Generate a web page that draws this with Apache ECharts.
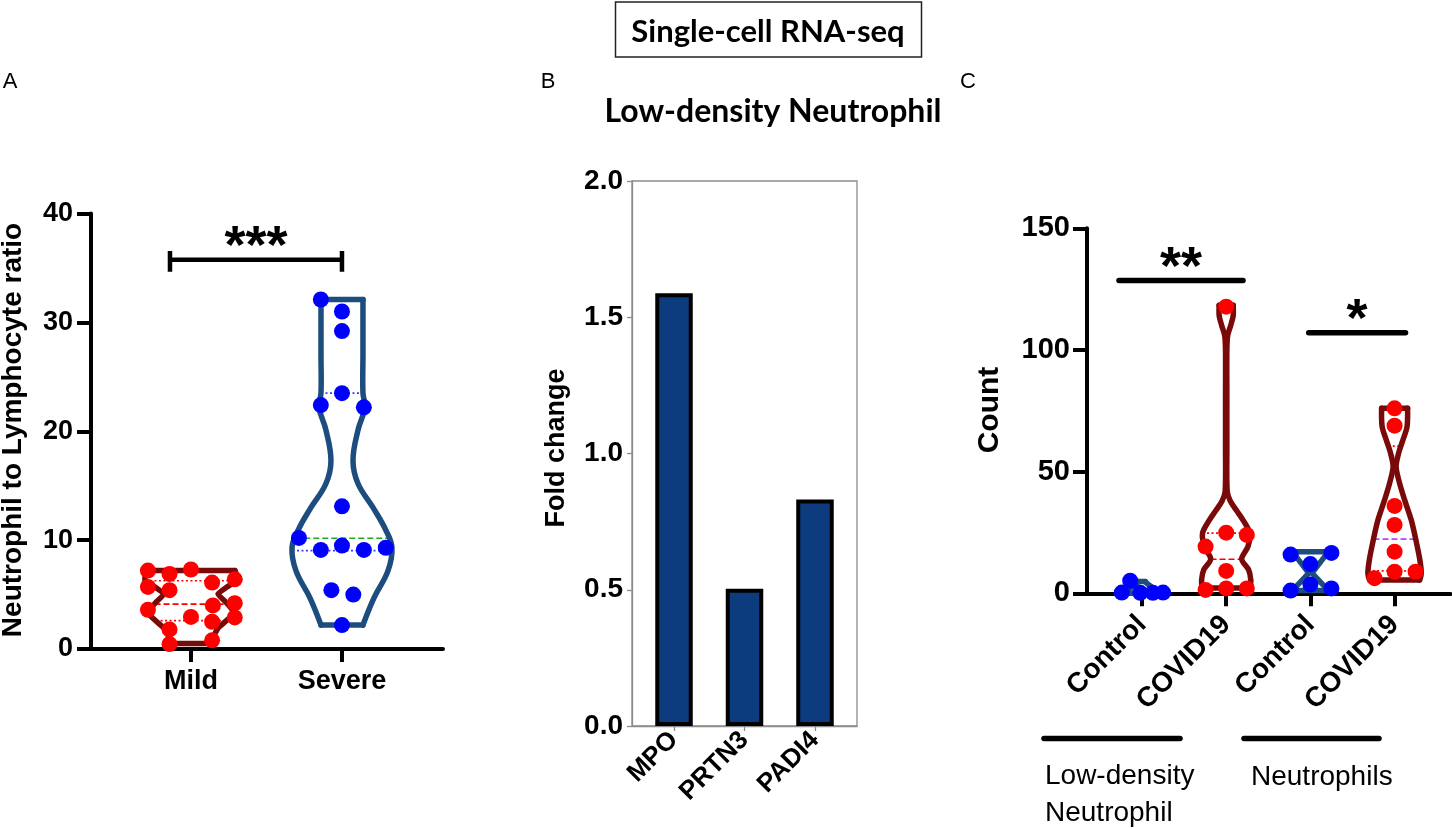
<!DOCTYPE html>
<html><head><meta charset="utf-8">
<script src="https://cdn.jsdelivr.net/npm/echarts@6/dist/echarts.min.js"></script>
<style>html,body{margin:0;padding:0;background:#fff}#c{width:1452px;height:829px}</style>
</head><body><div id="c"></div>
<script>
// ---------- Panel A data ----------
const catsA = ['Mild', 'Severe'];
const ticksA = [0, 10, 20, 30, 40];
const mildValues = [7.2, 6.9, 7.3, 6.1, 6.4, 5.7, 5.4, 4.0, 4.2, 3.6, 2.95, 2.5, 2.9, 1.8, 0.8, 0.45];
const mildJitter = [-0.285, -0.142, 0, 0.14, 0.29, -0.285, -0.142, 0.145, 0.29, -0.285, 0, 0.14, 0.29, -0.142, 0.14, -0.142];
const severeValues = [32.1, 31.0, 29.2, 23.5, 22.4, 22.2, 13.1, 10.2, 9.1, 9.5, 9.1, 9.3, 5.4, 5.0, 2.2];
const severeJitter = [-0.14, 0, 0, 0, -0.14, 0.145, 0, -0.285, -0.14, 0, 0.145, 0.29, -0.07, 0.075, 0];
// violin density outlines: value levels and half-widths (x-axis units)
const mildProfileY = [0.5, 1.2, 2.0, 3.3, 4.3, 5.05, 5.7, 6.3, 6.9, 7.2];
const mildProfileW = [0.146, 0.15, 0.185, 0.285, 0.232, 0.179, 0.238, 0.305, 0.30, 0.291];
const severeProfileY = [2.2, 4.7, 7.2, 9.3, 10.9, 13.0, 15.2, 17.3, 20.1, 22.2, 23.5, 27.0, 32.1];
const severeProfileW = [0.139, 0.212, 0.305, 0.331, 0.291, 0.205, 0.106, 0.073, 0.106, 0.152, 0.139, 0.139, 0.139];
const mildQuartiles = [2.6, 4.13, 6.27];      // Q1, median, Q3
const severeQuartiles = [9.03, 10.17, 23.5];
const sigA = {from: 0.861, to: 2.0, y: 35.76, label: '***'};

// ---------- Panel B data ----------
const genesB = ['MPO', 'PRTN3', 'PADI4'];
const foldChange = [1.588, 0.504, 0.831];
const ticksB = [0, 0.5, 1.0, 1.5, 2.0];

// ---------- Panel C data ----------
const catsC = ['Control', 'COVID19', 'Control', 'COVID19'];
const groupsC = ['Low-density\nNeutrophil', 'Neutrophils'];
const ticksC = [0, 50, 100, 150];
const ctrlLdnValues = [0.3, 5.2, 0.2, 0.2, 0.3];
const ctrlLdnJitter = [-0.24, -0.14, -0.02, 0.13, 0.25];
const covLdnValues = [117.8, 24.9, 24.0, 19.2, 9.2, 1.4, 2.0, 2.0];
const covLdnJitter = [0, 0, 0.245, -0.245, 0, -0.245, 0, 0.245];
const ctrlNValues = [15.9, 16.6, 12.0, 3.6, 1.1, 2.0];
const ctrlNJitter = [-0.235, 0.25, 0, 0, -0.235, 0.25];
const covNValues = [76.0, 68.9, 35.9, 28.1, 17.1, 8.9, 8.9, 6.2];
const covNJitter = [0, 0, 0, 0, 0, 0, 0.249, -0.238];
const ctrlLdnProfileY = [0.0, 1.0, 2.5, 4.0, 4.8];
const ctrlLdnProfileW = [0.21, 0.19, 0.12, 0.06, 0.04];
const covLdnProfileY = [2.2, 5.5, 9.6, 14.1, 19.2, 24.7, 30.0, 34.2, 38.0, 42.0, 60, 80, 100, 106, 110, 114, 118.4];
const covLdnProfileW = [0.285, 0.292, 0.267, 0.184, 0.258, 0.281, 0.202, 0.119, 0.048, 0.012, 0.008, 0.008, 0.008, 0.018, 0.053, 0.083, 0.083];
const ctrlNProfileY = [1.1, 8.3, 17.1];
const ctrlNProfileW = [0.214, 0.02, 0.214];
const covNProfileY = [5.5, 8.2, 13.7, 21.9, 30.1, 38.4, 45.3, 52.0, 57.6, 63.0, 68.5, 76.0];
const covNProfileW = [0.297, 0.317, 0.300, 0.253, 0.198, 0.119, 0.059, 0.018, 0.048, 0.099, 0.148, 0.154];
const covLdnQuartiles = [2.0, 14.0, 24.7];
const ctrlNQuartiles = [null, 7.6, null];
const covNQuartiles = [9.2, 22.3, 60.5];
const sigC = [{from: 0.727, to: 2.2, y: 128.5, label: '**'}, {from: 2.98, to: 4.13, y: 107.1, label: '*'}];

// ---------- styles ----------
const FONT = '"Liberation Sans", Arial, sans-serif';
const DARKRED = '#7a0a0a', NAVY = '#1c4d7e', RED = '#ff0000', BLUE = '#0000ff';

function interp(ys, ws, v) {
  if (v <= ys[0]) return ws[0];
  for (let i = 1; i < ys.length; i++) {
    if (v <= ys[i]) { const t = (v - ys[i - 1]) / (ys[i] - ys[i - 1]); return ws[i - 1] + t * (ws[i] - ws[i - 1]); }
  }
  return ws[ws.length - 1];
}

function violinSeries(idx, violins) {
  return {
    type: 'custom', xAxisIndex: idx, yAxisIndex: idx, z: 2,
    data: violins.map(v => [v.pos, v.ys[0]]),
    encode: {x: 0, y: 1},
    renderItem: (params, api) => {
      const v = violins[params.dataIndex];
      const n = v.ys.length;
      const left = v.ys.map((y, i) => api.coord([v.pos - v.ws[i], y]));
      const right = v.ys.map((y, i) => api.coord([v.pos + v.ws[i], y]));
      const ol = () => ({stroke: v.color, lineWidth: 5.5, fill: null, lineJoin: 'round', lineCap: 'round'});
      const children = [];
      v.stats.forEach(s => {
        if (s.value == null) return;
        const h = interp(v.ys, v.ws, s.value);
        const a = api.coord([v.pos - h, s.value]), b = api.coord([v.pos + h, s.value]);
        children.push({type: 'line', shape: {x1: a[0], y1: a[1], x2: b[0], y2: b[1]},
          style: {stroke: s.color, lineWidth: 1.7, lineDash: s.dash}});
      });
      children.push({type: 'polyline', shape: {points: left, smooth: v.smooth}, style: ol()});
      children.push({type: 'polyline', shape: {points: right, smooth: v.smooth}, style: ol()});
      children.push({type: 'line', shape: {x1: left[0][0], y1: left[0][1], x2: right[0][0], y2: right[0][1]}, style: ol()});
      children.push({type: 'line', shape: {x1: left[n - 1][0], y1: left[n - 1][1], x2: right[n - 1][0], y2: right[n - 1][1]}, style: ol()});
      return {type: 'group', children};
    }
  };
}
const DOT = [2, 2.5], DASH = [6, 3];
function stats(q, c1, c2) {
  return [{value: q[0], color: c1, dash: DOT}, {value: q[1], color: c2, dash: DASH}, {value: q[2], color: c1, dash: DOT}];
}
function dots(idx, pos, vals, jit, color) {
  return {type: 'scatter', xAxisIndex: idx, yAxisIndex: idx, z: 3, symbolSize: 16,
    itemStyle: {color, opacity: 1}, data: vals.map((y, i) => [pos + jit[i], y]), silent: true};
}
function sigBar(idx, s, caps) {
  const d = caps ? [[s.from, s.y + 0.8], [s.from, s.y - 1.1], [s.from, s.y], [s.to, s.y], [s.to, s.y + 0.8], [s.to, s.y - 1.1]]
                 : [[s.from, s.y], [s.to, s.y]];
  return {type: 'line', xAxisIndex: idx, yAxisIndex: idx, data: d, symbol: 'none', z: 4,
    lineStyle: {color: '#000', width: caps ? 4.5 : 5.5, cap: caps ? 'butt' : 'round', join: 'miter'}};
}
function starText(idx, items) {
  return {type: 'custom', xAxisIndex: idx, yAxisIndex: idx, z: 5, data: items.map(s => [(s.from + s.to) / 2, s.y]),
    encode: {x: 0, y: 1},
    renderItem: (params, api) => {
      const s = items[params.dataIndex];
      const p = api.coord([(s.from + s.to) / 2, s.y]);
      return {type: 'text', x: p[0], y: p[1] - 12, style: {text: s.label, font: 'bold 54px ' + FONT, fill: '#000', align: 'center', verticalAlign: 'middle'}};
    }};
}

const axisLbl = (size, margin) => ({color: '#000', fontWeight: 'bold', fontSize: size, fontFamily: FONT, margin});
const blackLine = {show: true, onZero: false, lineStyle: {color: '#000', width: 4}};

const option = {
  animation: false,
  backgroundColor: '#fff',
  grid: [
    {left: 91, top: 213.5, width: 352, height: 435.5},
    {left: 632, top: 181, width: 225, height: 545, show: true, borderColor: '#8c8c8c', borderWidth: 1.3},
    {left: 1087, top: 228.3, width: 363.5, height: 365}
  ],
  xAxis: [
    {gridIndex: 0, type: 'value', min: 0.338, max: 2.669, axisLine: blackLine, splitLine: {show: false},
      axisTick: {show: true, customValues: [1, 2], length: 13, lineStyle: {color: '#000', width: 4}},
      axisLabel: Object.assign(axisLbl(27, 19), {customValues: [1, 2], formatter: v => catsA[Math.round(v) - 1]})},
    {gridIndex: 1, type: 'value', min: 0.404, max: 3.596, splitLine: {show: false},
      axisLine: {show: true, onZero: false, lineStyle: {color: '#8c8c8c', width: 1.3}},
      axisTick: {show: true, customValues: [1, 2, 3], length: 5, lineStyle: {color: '#8c8c8c', width: 1.3}},
      axisLabel: Object.assign(axisLbl(26, 10), {customValues: [1, 2, 3], rotate: 45, formatter: v => genesB[Math.round(v) - 1]})},
    {gridIndex: 2, type: 'value', min: 0.347, max: 4.664, axisLine: blackLine, splitLine: {show: false},
      axisTick: {show: true, customValues: [1, 2, 3, 4], length: 13, lineStyle: {color: '#000', width: 4}},
      axisLabel: Object.assign(axisLbl(28, 27), {customValues: [1, 2, 3, 4], rotate: 45, formatter: v => catsC[Math.round(v) - 1]})}
  ],
  yAxis: [
    {gridIndex: 0, type: 'value', min: 0, max: 40, interval: 10, axisLine: blackLine, splitLine: {show: false},
      axisTick: {show: true, length: 14, lineStyle: {color: '#000', width: 4}},
      axisLabel: Object.assign(axisLbl(27, 18), {customValues: ticksA})},
    {gridIndex: 1, type: 'value', min: 0, max: 2, interval: 0.5, splitLine: {show: false},
      axisLine: {show: true, onZero: false, lineStyle: {color: '#8c8c8c', width: 1.3}},
      axisTick: {show: true, length: 5, lineStyle: {color: '#8c8c8c', width: 1.3}},
      axisLabel: Object.assign(axisLbl(28, 9), {customValues: ticksB, formatter: v => v.toFixed(1)})},
    {gridIndex: 2, type: 'value', min: 0, max: 150, interval: 50, axisLine: blackLine, splitLine: {show: false},
      axisTick: {show: true, length: 14, lineStyle: {color: '#000', width: 4}},
      axisLabel: Object.assign(axisLbl(29, 17), {customValues: ticksC})}
  ],
  series: [
    violinSeries(0, [
      {pos: 1, ys: mildProfileY, ws: mildProfileW, color: DARKRED, smooth: 0.15, stats: stats(mildQuartiles, RED, RED)},
      {pos: 2, ys: severeProfileY, ws: severeProfileW, color: NAVY, smooth: 0.4, stats: stats(severeQuartiles, '#3a3aff', '#22aa22')}
    ]),
    dots(0, 1, mildValues, mildJitter, RED),
    dots(0, 2, severeValues, severeJitter, BLUE),
    sigBar(0, sigA, true),
    starText(0, [sigA]),
    {type: 'bar', xAxisIndex: 1, yAxisIndex: 1, barWidth: 37.5,
      data: foldChange.map((v, i) => [i + 1, v]),
      itemStyle: {color: '#0c3c7d', borderColor: '#000', borderWidth: 4}},
    violinSeries(2, [
      {pos: 1, ys: ctrlLdnProfileY, ws: ctrlLdnProfileW, color: NAVY, smooth: 0, stats: []},
      {pos: 2, ys: covLdnProfileY, ws: covLdnProfileW, color: DARKRED, smooth: 0.3, stats: stats(covLdnQuartiles, RED, RED)},
      {pos: 3, ys: ctrlNProfileY, ws: ctrlNProfileW, color: NAVY, smooth: 0, stats: stats(ctrlNQuartiles, '#22aa22', '#22aa22')},
      {pos: 4, ys: covNProfileY, ws: covNProfileW, color: DARKRED, smooth: 0.3, stats: stats(covNQuartiles, RED, '#c040ff')}
    ]),
    dots(2, 1, ctrlLdnValues, ctrlLdnJitter, BLUE),
    dots(2, 2, covLdnValues, covLdnJitter, RED),
    dots(2, 3, ctrlNValues, ctrlNJitter, BLUE),
    dots(2, 4, covNValues, covNJitter, RED),
    sigBar(2, sigC[0], false),
    sigBar(2, sigC[1], false),
    starText(2, sigC)
  ],
  graphic: [
    {type: 'rect', shape: {x: 615.5, y: 2, width: 306, height: 55}, style: {fill: null, stroke: '#222', lineWidth: 1.5}},
    {type: 'text', x: 768, y: 32, style: {text: 'Single-cell RNA-seq', font: 'bold 31px Lato, "Open Sans", sans-serif', fill: '#000', align: 'center', verticalAlign: 'middle'}},
    {type: 'text', x: 773, y: 112, style: {text: 'Low-density Neutrophil', font: 'bold 32px Lato, "Open Sans", sans-serif', fill: '#000', align: 'center', verticalAlign: 'middle'}},
    {type: 'text', x: 10, y: 82, style: {text: 'A', font: '22px ' + FONT, fill: '#000', align: 'center', verticalAlign: 'middle'}},
    {type: 'text', x: 548, y: 82, style: {text: 'B', font: '22px ' + FONT, fill: '#000', align: 'center', verticalAlign: 'middle'}},
    {type: 'text', x: 968, y: 82, style: {text: 'C', font: '22px ' + FONT, fill: '#000', align: 'center', verticalAlign: 'middle'}},
    {type: 'text', x: 13, y: 430, rotation: Math.PI / 2, style: {text: 'Neutrophil to Lymphocyte ratio', font: 'bold 28px ' + FONT, fill: '#000', align: 'center', verticalAlign: 'middle'}},
    {type: 'text', x: 557, y: 448, rotation: Math.PI / 2, style: {text: 'Fold change', font: 'bold 27px ' + FONT, fill: '#000', align: 'center', verticalAlign: 'middle'}},
    {type: 'text', x: 990, y: 410, rotation: Math.PI / 2, style: {text: 'Count', font: 'bold 30px ' + FONT, fill: '#000', align: 'center', verticalAlign: 'middle'}},
    {type: 'line', shape: {x1: 1044, y1: 738.5, x2: 1180, y2: 738.5}, style: {stroke: '#000', lineWidth: 5.5, lineCap: 'round'}},
    {type: 'line', shape: {x1: 1244, y1: 738.5, x2: 1379, y2: 738.5}, style: {stroke: '#000', lineWidth: 5.5, lineCap: 'round'}},
    {type: 'text', x: 1045, y: 795, style: {text: groupsC[0], font: '28px ' + FONT, fill: '#000', align: 'left', verticalAlign: 'middle', lineHeight: 37}},
    {type: 'text', x: 1251, y: 777, style: {text: groupsC[1], font: '28px ' + FONT, fill: '#000', align: 'left', verticalAlign: 'middle'}}
  ]
};
const chart = echarts.init(document.getElementById('c'), null, {renderer: 'canvas'});
chart.setOption(option);
</script></body></html>
